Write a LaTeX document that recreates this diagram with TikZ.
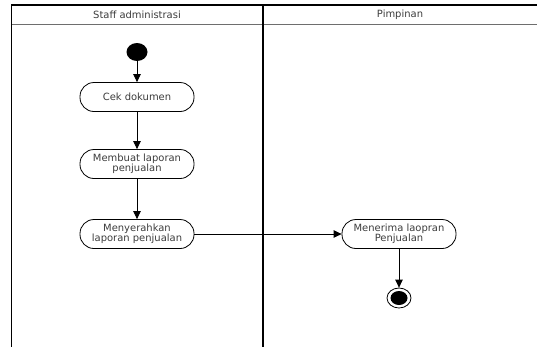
\documentclass[tikz,border=0pt]{standalone}
\usepackage{fontspec}
\setmainfont{DejaVu Sans}
\usetikzlibrary{arrows.meta,shapes.geometric}
\definecolor{laneGray}{RGB}{110,110,110}
\definecolor{textGray}{RGB}{60,60,60}

\tikzset{
  activity/.style={draw,line width=.8bp,rounded corners=14bp,minimum width=114bp,minimum height=29bp,inner sep=1bp,align=center,text=textGray,font=\fontsize{10}{10.5}\selectfont},
  lanetitle/.style={text=textGray,font=\fontsize{10}{11}\selectfont},
  flow/.style={-{Triangle[length=8bp,width=7.5bp]},line width=.8bp}
}

\begin{document}
\begin{tikzpicture}[x=1bp,y=-1bp]
\useasboundingbox (0,0) rectangle (537,347);
% swimlanes
\draw[line width=1.2bp] (11,5) -- (537,5);
\draw[line width=.8bp,laneGray] (11,24.5) -- (537,24.5);
\draw[line width=1bp] (11,5) -- (11,347);
\draw[line width=1.2bp] (263,5) -- (263,347);
\node[lanetitle] (laneStaff) at (137,15) {Staff administrasi};
\node[lanetitle] (lanePimpinan) at (400,15) {Pimpinan};
% activities
\node[ellipse,fill,minimum width=21bp,minimum height=18bp,inner sep=0pt] (start) at (137,52) {};
\node[activity] (cek) at (137,97) {Cek dokumen};
\node[activity] (membuat) at (137,164) {Membuat laporan\\penjualan};
\node[activity] (serah) at (137,234) {Menyerahkan\\laporan penjualan};
\node[activity] (terima) at (399,234) {Menerima laopran\\Penjualan};
\node[ellipse,draw,line width=.8bp,minimum width=24bp,minimum height=20bp,inner sep=0pt] (finish) at (399,298) {};
\node[ellipse,fill,minimum width=17bp,minimum height=14bp,inner sep=0pt] (finishDot) at (399,298) {};
% flows
\draw[flow] (start) -- (cek);
\draw[flow] (cek) -- (membuat);
\draw[flow] (membuat) -- (serah);
\draw[flow] (serah) -- (terima);
\draw[flow] (terima) -- (finish);
\end{tikzpicture}
\end{document}
